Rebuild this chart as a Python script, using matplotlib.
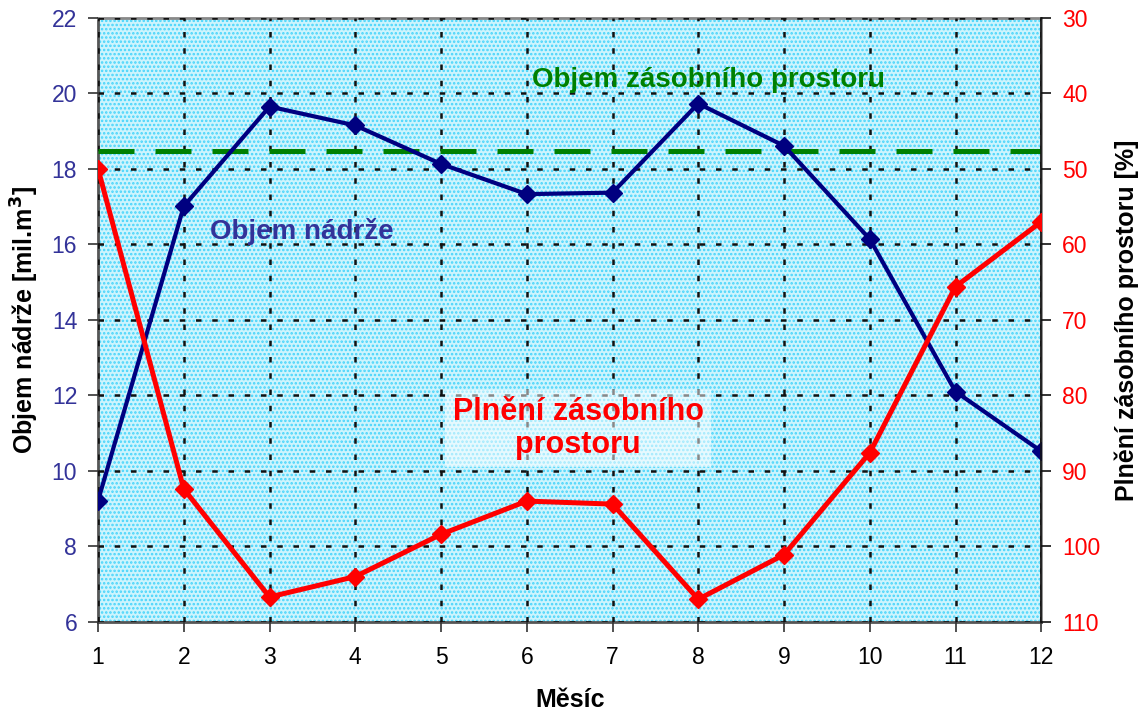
import matplotlib
matplotlib.use("Agg")
import matplotlib.pyplot as plt
from matplotlib.patches import Rectangle

# data
months = [1, 2, 3, 4, 5, 6, 7, 8, 9, 10, 11, 12]
volume = [9.21, 17.01, 19.65, 19.15, 18.13, 17.33, 17.37, 19.73, 18.61, 16.14, 12.10, 10.52]
filling = [50.0, 92.4, 106.7, 104.0, 98.4, 94.0, 94.4, 107.0, 101.1, 87.6, 65.6, 57.0]
storage_volume = 18.48

left_ticks = [6, 8, 10, 12, 14, 16, 18, 20, 22]
right_ticks = [30, 40, 50, 60, 70, 80, 90, 100, 110]

plt.rcParams['font.family'] = ['Liberation Sans', 'DejaVu Sans']
plt.rcParams['hatch.linewidth'] = 1.2

blue = "#000080"
label_blue = "#333399"
red = "#ff0000"
green = "#008000"

fig = plt.figure(figsize=(11.44, 7.14), dpi=100)
ax = fig.add_axes([0.0857, 0.129, 0.8245, 0.846])
ax2 = ax.twinx()

# dotted light blue background
ax.set_facecolor("white")
ax.add_patch(Rectangle((0, 0), 1, 1, transform=ax.transAxes, facecolor="#cdf4fd",
                       edgecolor="#45d4fb", hatch="....", linewidth=0, zorder=0))

ax.set_xlim(1, 12)
ax.set_ylim(6, 22)
ax2.set_ylim(110, 30)
ax.set_xticks(months)
ax.set_yticks(left_ticks)
ax2.set_yticks(right_ticks)

ax.grid(True, color="#111111", linestyle=(0, (2.2, 4.3)), linewidth=1.8, zorder=1)
ax.set_axisbelow(False)

# storage volume dashed line
ax.plot([months[0], months[-1]], [storage_volume, storage_volume], color=green,
        linewidth=3.6, linestyle=(0, (7.2, 4.2)), zorder=3)
ax.plot(months, volume, color=blue, linewidth=3.0, marker="D", markersize=9, zorder=4)
ax2.plot(months, filling, color=red, linewidth=3.6, marker="D", markersize=9, zorder=4)

# annotations
ax.text(3.38, 16.33, "Objem nádrže", color=label_blue, fontsize=20, fontweight="bold",
        ha="center", va="center", zorder=5)
ax.text(8.12, 20.36, "Objem zásobního prostoru", color=green, fontsize=20, fontweight="bold",
        ha="center", va="center", zorder=5)
ax.text(6.6, 11.12, "Plnění zásobního\nprostoru", color=red, fontsize=22, fontweight="bold",
        ha="center", va="center", linespacing=1.1, zorder=5,
        bbox=dict(boxstyle="square,pad=0.25", facecolor="white", alpha=0.5, edgecolor="none"))

for side in ["top", "right"]:
    ax.spines[side].set_color("#888888")
    ax.spines[side].set_linewidth(2)
ax.spines["left"].set_color("#555555")
ax.spines["bottom"].set_color("#555555")
ax.spines["left"].set_linewidth(2)
ax.spines["bottom"].set_linewidth(2)
for side in ["top", "left", "bottom"]:
    ax2.spines[side].set_visible(False)
ax2.spines["right"].set_color("#111111")
ax2.spines["right"].set_linewidth(1.2)

ax.tick_params(axis="y", colors="#333333", labelcolor=label_blue, labelsize=16.5,
               direction="out", length=7, width=1.2, pad=8)
ax.tick_params(axis="x", colors="#333333", labelcolor="black", labelsize=16.5,
               direction="out", length=7, width=1.2, pad=10)
ax2.tick_params(axis="y", colors="#111111", labelcolor=red, labelsize=16.5,
                direction="out", length=7, width=1.2, pad=8)

ax.set_xlabel("Měsíc", fontsize=18, fontweight="bold", labelpad=14)
ax.set_ylabel("Objem nádrže [mil.m$^\\mathbf{3}$]", fontsize=18, fontweight="bold", labelpad=8)
ax2.set_ylabel("Plnění zásobního prostoru [%]", fontsize=18, fontweight="bold", labelpad=10)

fig.savefig("out.png", dpi=100)
